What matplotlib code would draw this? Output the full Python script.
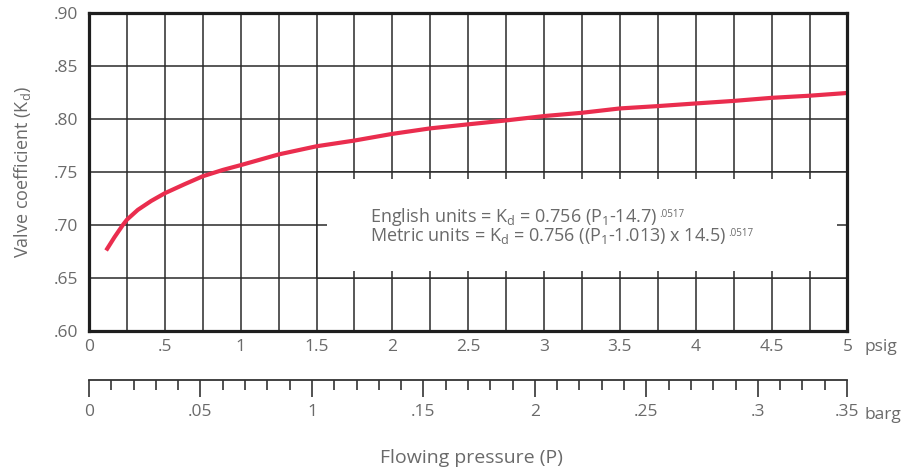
import matplotlib.pyplot as plt
from matplotlib.patches import Rectangle
import numpy as np

plt.rcParams['font.family'] = ['Open Sans', 'DejaVu Sans']

# Curve (psig -> Kd)
psig = [0.113, 0.168, 0.223, 0.25, 0.322, 0.41, 0.5, 0.63, 0.75, 0.883, 1.0,
        1.25, 1.5, 1.75, 2.0, 2.25, 2.5, 2.75, 3.0, 3.25, 3.5, 3.75, 4.0,
        4.25, 4.5, 4.75, 5.0]
kd = [0.676, 0.6885, 0.700, 0.705, 0.7143, 0.7227, 0.730, 0.7385, 0.746,
      0.752, 0.7565, 0.7666, 0.7743, 0.7797, 0.786, 0.7912, 0.795, 0.7987,
      0.8028, 0.8059, 0.810, 0.8122, 0.8147, 0.8171, 0.820, 0.822, 0.8246]

psig_ticks = [0, 0.5, 1, 1.5, 2, 2.5, 3, 3.5, 4, 4.5, 5]
psig_labels = ['0', '.5', '1', '1.5', '2', '2.5', '3', '3.5', '4', '4.5', '5']
kd_ticks = [0.60, 0.65, 0.70, 0.75, 0.80, 0.85, 0.90]
kd_labels = ['.60', '.65', '.70', '.75', '.80', '.85', '.90']
barg_ticks = [0, 0.05, 0.10, 0.15, 0.20, 0.25, 0.30, 0.34]
barg_labels = ['0', '.05', '1', '.15', '2', '.25', '.3', '.35']
barg_minor = [0.01, 0.02, 0.03, 0.04, 0.06, 0.07, 0.08, 0.09, 0.11, 0.12,
              0.13, 0.14, 0.16, 0.17, 0.18, 0.19, 0.21, 0.22, 0.23, 0.24,
              0.26, 0.27, 0.28, 0.29, 0.31, 0.32, 0.33]

grey = '#6a6a6a'
red = '#EA2D4E'
gridc = '#2a2a2a'
fs = 12.5

fig = plt.figure(figsize=(9.06, 4.76), dpi=100)
ax = fig.add_axes([0.0982, 0.3046, 0.8372, 0.668])

ax.set_xlim(0, 5)
ax.set_ylim(0.60, 0.90)
ax.set_xticks(np.arange(0, 5.01, 0.25), minor=True)
ax.set_xticks(psig_ticks)
ax.set_xticklabels(psig_labels)
ax.set_yticks(kd_ticks)
ax.set_yticklabels(kd_labels)
ax.tick_params(which='both', length=0, labelsize=fs, labelcolor=grey)
ax.tick_params(axis='x', pad=6)
ax.tick_params(axis='y', pad=8)
ax.grid(True, which='both', color=gridc, linewidth=1.1, zorder=0)
ax.set_axisbelow(True)
for s in ax.spines.values():
    s.set_linewidth(2.3)
    s.set_color('#1e1e1e')
    s.set_zorder(5)

# white box holding the formulas
ax.add_patch(Rectangle((1.5, 0.65), 3.5, 0.10, facecolor='white',
                       edgecolor='none', zorder=1))
ax.hlines([0.65, 0.75], 1.5, 5, color=gridc, linewidth=1.1, zorder=2)
ax.vlines(1.5, 0.65, 0.75, color=gridc, linewidth=1.1, zorder=2)
stub_x = np.arange(1.75, 4.9, 0.25)
ax.vlines(stub_x, 0.75 - 0.0066, 0.75, color=gridc, linewidth=1.1, zorder=2)
ax.vlines(stub_x, 0.65, 0.65 + 0.0066, color=gridc, linewidth=1.1, zorder=2)
ax.hlines(0.70, 1.5, 1.566, color=gridc, linewidth=1.1, zorder=2)
ax.hlines(0.70, 4.93, 5, color=gridc, linewidth=1.1, zorder=2)

ax.plot(psig, kd, color=red, linewidth=3.0, solid_capstyle='butt', zorder=3)

t1 = ax.text(1.855, 0.7028, r'English units = K$_\mathregular{d}$ = 0.756 (P$_\mathregular{1}$-14.7)',
             color=grey, fontsize=13, va='baseline', zorder=4)
t2 = ax.text(1.855, 0.6853, r'Metric units = K$_\mathregular{d}$ = 0.756 ((P$_\mathregular{1}$-1.013) x 14.5)',
             color=grey, fontsize=13, va='baseline', zorder=4)
for t in (t1, t2):
    ax.annotate('.0517', xy=(1, 1), xycoords=t, xytext=(1, -2),
                textcoords='offset points', fontsize=7, color=grey,
                va='top', ha='left', zorder=4)

ax.set_ylabel(r'Valve coefficient (K$_\mathregular{d}$)', color=grey, fontsize=13,
              labelpad=15)
ax.text(1.022, -0.05, 'psig', transform=ax.transAxes, color=grey, fontsize=fs,
        va='center', ha='left')

# barg scale
bx = fig.add_axes([0.0982, 0.2017, 0.8372, 0.0001])
bx.set_xlim(0, 0.3402)
bx.set_ylim(0, 1)
bx.set_yticks([])
for k in ['top', 'left', 'right']:
    bx.spines[k].set_visible(False)
bx.spines['bottom'].set_linewidth(1.3)
bx.spines['bottom'].set_color('#333333')
bx.set_xticks(barg_ticks)
bx.set_xticklabels(barg_labels)
bx.set_xticks(barg_minor, minor=True)
bx.tick_params(which='major', length=12.2, width=1.2, color='#333333', pad=5,
               labelsize=fs, labelcolor=grey)
bx.tick_params(which='minor', length=7.2, width=1.2, color='#333333')
fig.text(865 / 906, 1 - 415 / 476, 'barg', color=grey, fontsize=fs,
         va='center', ha='left')
fig.text(471 / 906, 1 - 458 / 476, 'Flowing pressure (P)', color=grey, fontsize=14,
         va='center', ha='center')

fig.savefig('out.png', dpi=100)
